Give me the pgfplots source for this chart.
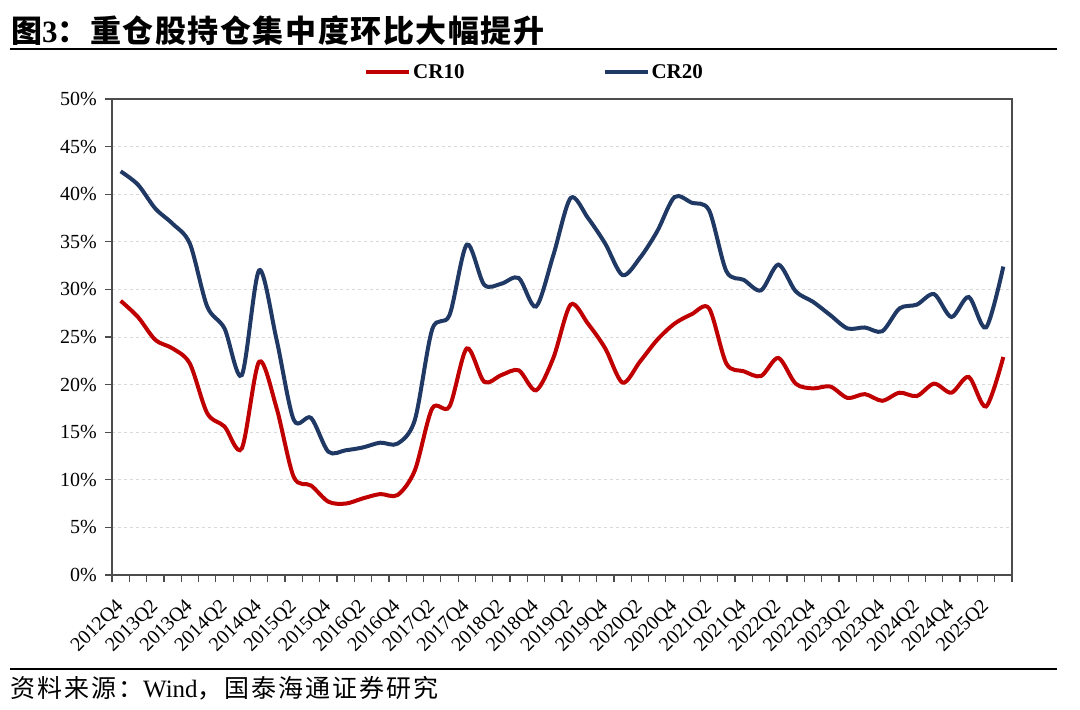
\documentclass[border=0pt]{standalone}
\usepackage{pgfplots}
\pgfplotsset{compat=1.18}
\usepackage{pgfplotstable}
\usepackage{fontspec}
\setmainfont{Liberation Serif}
\newfontfamily\cjk[LetterSpace=5]{Noto Sans CJK SC}
\newfontfamily\cjksrc[LetterSpace=8]{Noto Sans CJK SC}
\definecolor{cra}{RGB}{192,0,0}
\definecolor{crb}{RGB}{31,56,100}
\pgfplotstableread{
x cr10 cr20
0 28.8 42.4
1 27.1 41.0
2 24.7 38.5
3 23.8 36.9
4 22.2 34.8
5 17.0 28.2
6 15.6 25.9
7 13.3 21.0
8 22.4 32.0
9 17.6 24.8
10 10.3 16.3
11 9.4 16.5
12 7.7 12.95
13 7.5 13.1
14 8.05 13.4
15 8.5 13.9
16 8.4 13.8
17 11.0 16.3
18 17.5 25.8
19 17.7 27.3
20 23.8 34.7
21 20.3 30.5
22 21.0 30.6
23 21.5 31.2
24 19.4 28.2
25 22.8 33.6
26 28.4 39.6
27 26.4 37.5
28 23.8 34.8
29 20.2 31.5
30 22.4 33.3
31 24.7 36.1
32 26.4 39.7
33 27.4 39.1
34 28.0 38.3
35 22.2 31.9
36 21.4 31.0
37 20.9 29.9
38 22.8 32.6
39 20.1 29.8
40 19.6 28.7
41 19.8 27.3
42 18.6 25.9
43 19.0 26.0
44 18.3 25.6
45 19.15 28.0
46 18.8 28.4
47 20.1 29.5
48 19.15 27.1
49 20.8 29.2
50 17.7 26.0
51 22.9 32.4
}\datatable
\begin{document}
\begin{tikzpicture}
\path (-112pt,-135pt) rectangle (968pt,575pt);
\begin{axis}[
  scale only axis,
  width=900pt, height=476pt,
  xmin=-0.5, xmax=51.5, ymin=0, ymax=50,
  axis line style={draw=black!70, line width=1.3pt},
  xtick={0,2,...,50},
  xticklabels={2012Q4,2013Q2,2013Q4,2014Q2,2014Q4,2015Q2,2015Q4,2016Q2,2016Q4,2017Q2,2017Q4,2018Q2,2018Q4,2019Q2,2019Q4,2020Q2,2020Q4,2021Q2,2021Q4,2022Q2,2022Q4,2023Q2,2023Q4,2024Q2,2024Q4,2025Q2},
  minor xtick={-0.5,0.5,...,51.5},
  major tick length=7pt,
  minor tick length=7pt,
  xtick style={draw=none},
  minor x tick style={draw=black!70, line width=1.2pt},
  ytick={0,5,...,50},
  ytick style={draw=black!70, line width=1.2pt},
  tick align=outside,
  tick pos=left,
  ymajorgrids,
  major grid style={draw=black!15, dashed, line width=0.9pt},
  yticklabel={\pgfmathprintnumber{\tick}\%},
  /pgf/number format/assume math mode=true,
  ticklabel style={font=\fontsize{20}{22}\selectfont},
  xticklabel style={xshift=-6pt, yshift=-14pt, rotate=45, anchor=north east, inner sep=1pt},
  yticklabel style={inner sep=2pt, xshift=-6pt},
  legend columns=2,
  legend style={draw=none, fill=none, at={(0.2800,1.0567)}, anchor=west, inner sep=0pt,
    font=\fontsize{21}{23}\selectfont\bfseries, /tikz/every even column/.append style={column sep=136pt}},
  legend image code/.code={\draw[#1, line width=4pt] (0pt,0pt) -- (43pt,0pt);},
]
\addplot[cra, line width=4pt, smooth, no marks] table[x=x, y=cr10] {\datatable};
\addlegendentry{CR10}
\addplot[crb, line width=4pt, smooth, no marks] table[x=x, y=cr20] {\datatable};
\addlegendentry{CR20}
\end{axis}
\node[anchor=west, inner sep=0pt] at (-101pt,544pt) {\fontsize{31}{34}\selectfont{\cjk\bfseries 图}{\bfseries 3}{\cjk\bfseries ：重仓股持仓集中度环比大幅提升}};
\draw[black, line width=2.5pt] (-102pt,526pt) -- (945pt,526pt);
\draw[black, line width=2.5pt] (-102pt,-94pt) -- (945pt,-94pt);
\node[anchor=west, inner sep=0pt] at (-102pt,-113pt) {\fontsize{25}{28}\selectfont{\cjksrc 资料来源：}Wind{\cjksrc ，国泰海通证券研究}};
\end{tikzpicture}
\end{document}
